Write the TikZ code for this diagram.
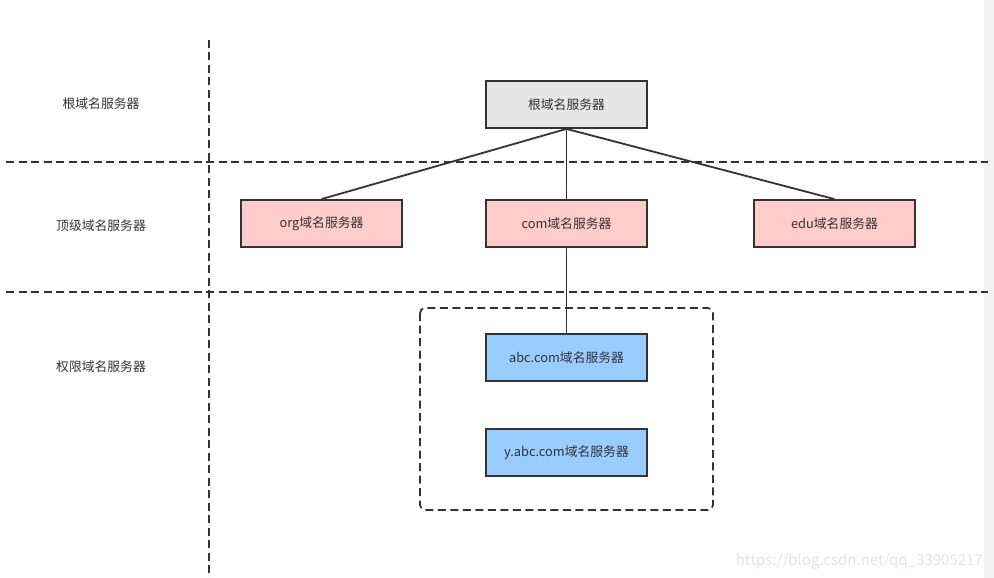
\documentclass[tikz,border=0pt]{standalone}
\usepackage{fontspec}
\setmainfont{Noto Sans CJK SC}
\usetikzlibrary{positioning}
\definecolor{txt}{HTML}{333333}
\definecolor{rootfill}{HTML}{E6E6E6}
\definecolor{pinkfill}{HTML}{FFCCCC}
\definecolor{bluefill}{HTML}{99CCFF}
\definecolor{barfill}{HTML}{F2F2F2}
\definecolor{wm}{HTML}{E4E4E4}
\tikzset{
  srv/.style={draw=txt, line width=1.8pt, minimum width=161pt, minimum height=47pt, inner sep=0pt, text=txt, font=\fontsize{12.8}{15}\selectfont},
  lbl/.style={text=txt, font=\fontsize{12.8}{15}\selectfont, inner sep=0pt},
  sep/.style={draw=txt, line width=1.8pt, dash pattern=on 8pt off 4.5pt},
  conn/.style={draw=txt, line width=1.8pt},
}
\begin{document}
\begin{tikzpicture}[x=1pt,y=-1pt]
\useasboundingbox (0,0) rectangle (994,578);
\fill[white] (0,0) rectangle (994,578);
\fill[barfill] (984,0) rectangle (994,578);
% separators
\draw[sep] (6,162) -- (988,162);
\draw[sep] (6,292) -- (988,292);
\draw[sep] (209,40) -- (209,578);
% layer labels
\node[lbl] (l1) at (101,104) {根域名服务器};
\node[lbl] (l2) at (101,226) {顶级域名服务器};
\node[lbl] (l3) at (101,367) {权限域名服务器};
% authority group
\draw[sep, rounded corners=5pt] (420,308) rectangle (713,510);
% servers
\node[srv, fill=rootfill] (root) at (566.5,104.5) {根域名服务器};
\node[srv, fill=pinkfill] (org) at (321.5,223.5) {org域名服务器};
\node[srv, fill=pinkfill] (com) at (566.5,223.5) {com域名服务器};
\node[srv, fill=pinkfill] (edu) at (834.5,223.5) {edu域名服务器};
\node[srv, fill=bluefill] (abc) at (566.5,357.5) {abc.com域名服务器};
\node[srv, fill=bluefill] (yabc) at (566.5,452.5) {y.abc.com域名服务器};
% connectors
\draw[conn] (root.south) -- (org.north);
\draw[conn] (root.south) -- (com.north);
\draw[conn] (root.south) -- (edu.north);
\draw[conn] (com.south) -- (abc.north);
% watermark
\node[text=wm, font=\fontsize{15}{17}\selectfont, anchor=east, inner sep=0pt] (wmk) at (983,561) {https://blog.csdn.net/qq\_33905217};
\end{tikzpicture}
\end{document}
